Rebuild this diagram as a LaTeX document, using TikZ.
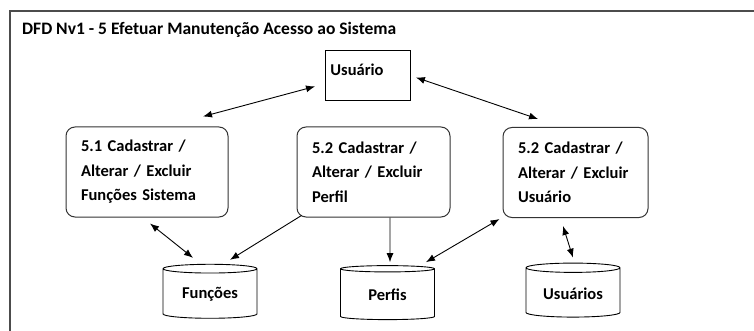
\documentclass[tikz,border=0pt]{standalone}
\usepackage{fontspec}
\setmainfont{Carlito}
\usetikzlibrary{shapes.geometric,arrows.meta}

\begin{document}
\begin{tikzpicture}[x=1pt,y=-1pt,font=\fontsize{16.5}{24.5}\selectfont\bfseries,
    >={Latex[length=9pt,width=7pt]}]

      \useasboundingbox (0,0) rectangle (754,331);
      \draw[line width=2.2pt, black!70] (10,331) -- (10,11) -- (754,11);

      \node[anchor=base west, inner sep=0pt, font=\fontsize{17.5}{20}\selectfont\bfseries] (0) at (22,35)
        {DFD Nv1 - 5 Efetuar Manutenção Acesso ao Sistema};

      \begin{scope}[every node/.style={draw, line width=0.9pt}]
        \node[anchor=north west, align=left, text width=75pt, inner xsep=5pt, inner ysep=5pt,
          text height=20pt, text depth=20pt] (1) at (325,50) {Usuário};
      \end{scope}

      \begin{scope}[every node/.style={draw=black!80, line width=1pt, rounded corners=9pt,
          align=left, minimum height=90pt, inner xsep=15pt}]
        \node[text width=132pt] (2) at (147,172) {5.1 Cadastrar /\\Alterar / Excluir\\Funções Sistema};
        \node[text width=123pt] (3) at (373.5,172) {5.2 Cadastrar /\\Alterar / Excluir\\Perfil};
        \node[text width=115pt] (4) at (575.5,172.5) {5.2 Cadastrar /\\Alterar / Excluir\\Usuário};
      \end{scope}

      \begin{scope}[every node/.style={draw, line width=0.9pt, cylinder, shape border rotate=90,
          aspect=0.14, minimum width=94pt, minimum height=54pt}]
        \node (5) at (210,294.5) {Funções};
        \node (6) at (387.5,295) {Perfis};
        \node (7) at (573,293.5) {Usuários};
      \end{scope}

      \begin{scope}[every edge/.style={draw, line width=0.9pt}]
        \path ([shift={(56,-10)}]2.north)   edge[<->] ([shift={(-10,11)}]1.west);
        \path ([shift={(5,2)}]1.east)       edge[<->] ([shift={(-37.5,-8)}]4.north);
        \path ([shift={(3,6)}]2.south)      edge[<->] ([shift={(-17,-6)}]5.north);
        \path ([shift={(5,-2)}]3.south west) edge[->] ([shift={(20,-4)}]5.north);
        \path ([shift={(16.5,0)}]3.south)   edge[->]  ([shift={(2.5,-3)}]6.north);
        \path ([shift={(-3,1)}]4.south west) edge[<->] ([shift={(38.5,-3)}]6.north);
        \path ([shift={(-12.5,8)}]4.south)  edge[<->] ([shift={(0,-5)}]7.north);
      \end{scope}

    \end{tikzpicture}
\end{document}
